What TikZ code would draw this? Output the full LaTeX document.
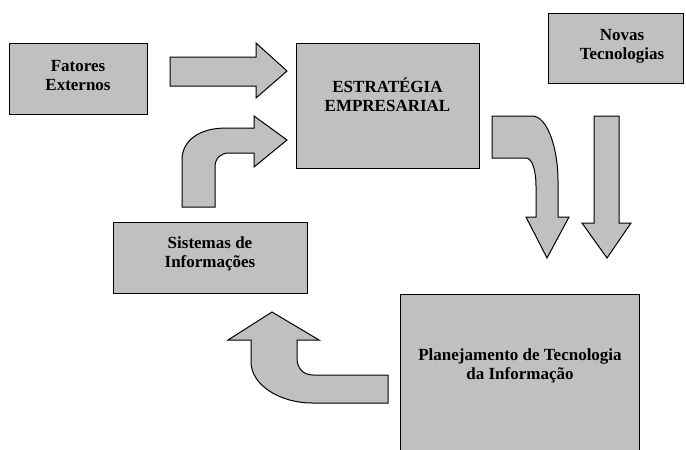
\documentclass[tikz,border=0pt]{standalone}
\usepackage{fontspec}
\setmainfont{Liberation Serif}
\definecolor{boxgray}{RGB}{192,192,192}
\begin{document}
\begin{tikzpicture}[x=1pt,y=-1pt,
  box/.style={draw=black, fill=boxgray, line width=1pt, inner sep=0pt, outer sep=0pt},
  blk/.style={draw=black, fill=boxgray, line width=1pt, line join=miter},
  lbl/.style={font=\fontsize{17}{19}\selectfont\bfseries, align=center, inner sep=0pt}]
\useasboundingbox (0,0) rectangle (686,450);
% boxes
\node[box, minimum width=138pt, minimum height=71pt] (fat) at (78,78.5) {};
\node[box, minimum width=183pt, minimum height=125pt] (est) at (387.5,105.5) {};
\node[box, minimum width=135pt, minimum height=70pt] (nov) at (615.5,48) {};
\node[box, minimum width=194pt, minimum height=71pt] (sis) at (210,257.5) {};
\node[box, minimum width=239pt, minimum height=164pt] (pla) at (519.5,376) {};
% labels
\node[lbl] (fatT) at (78,76) {Fatores\\Externos};
\node[lbl] (estT) at (387.5,95) {ESTRATÉGIA\\EMPRESARIAL};
\node[lbl] (novT) at (622,46) {Novas\\Tecnologias};
\node[lbl] (sisT) at (210,254) {Sistemas de\\Informações};
\node[lbl] (plaT) at (520,366) {Planejamento de Tecnologia\\da Informação};
% block arrows
\draw[blk] (170,57) -- (256,57) -- (256,43) -- (287,71) -- (256,98) -- (256,86) -- (170,86) -- cycle;
\draw[blk] (182,207) -- (182,160) .. controls (182,140) and (200,128) .. (226,128) -- (254,128) -- (254,116) -- (287,140) -- (254,167) -- (254,153) -- (229,153) .. controls (221,153) and (215,158) .. (215,167) -- (215,207) -- cycle;
\draw[blk] (492,116) -- (532,116) .. controls (548,116) and (558,150) .. (558,180) -- (558,217) -- (569,217) -- (547,258) -- (526,217) -- (536,217) -- (536,186) .. controls (536,170) and (532,158) .. (526,158) -- (492,158) -- cycle;
\draw[blk] (594,116) -- (619,116) -- (619,223) -- (631,223) -- (607,258) -- (582,223) -- (594,223) -- cycle;
\draw[blk] (272,312) -- (319,340) -- (297,340) -- (297,358) .. controls (297,368) and (303,375) .. (313,375) -- (388,375) -- (388,403) -- (312,403) .. controls (280,403) and (251,385) .. (251,362) -- (251,340) -- (228,340) -- cycle;
\end{tikzpicture}
\end{document}
